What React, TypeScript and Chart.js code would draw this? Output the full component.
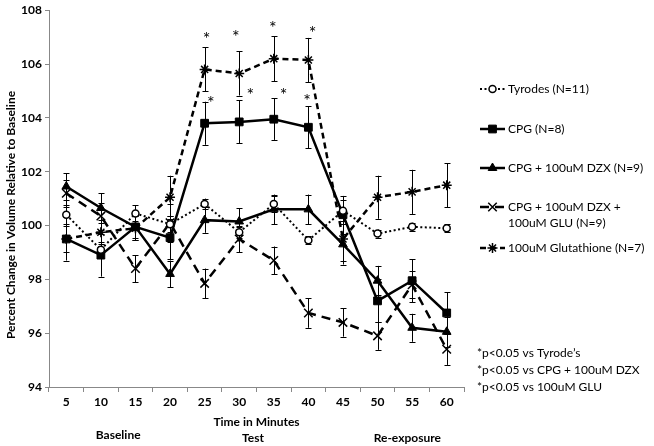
import React, { useEffect, useRef } from "react";
import { Chart, registerables } from "chart.js";
import { drawPoint } from "chart.js/helpers";

Chart.register(...registerables);

// ---- data ----
const minutes = ["5", "10", "15", "20", "25", "30", "35", "40", "45", "50", "55", "60"];

const tyrodes = [100.4, 99.1, 100.45, 100.05, 100.8, 99.75, 100.8, 99.45, 100.55, 99.7, 99.95, 99.9];
const tyrodesErr = [0.35, 0.3, 0.3, 0.3, 0.2, 0.2, 0.3, 0.15, 0.4, 0.15, 0.15, 0.15];

const cpg = [99.5, 98.9, 99.95, 99.55, 103.8, 103.85, 103.95, 103.65, 100.4, 97.2, 97.95, 96.75];
const cpgErr = [0.8, 0.8, 0.5, 0.8, 0.8, 0.8, 0.77, 0.78, 0.7, 0.8, 0.8, 0.77];

const cpgDzx = [101.45, 100.65, 99.95, 98.2, 100.2, 100.15, 100.6, 100.6, 99.3, 97.95, 96.2, 96.05];
const cpgDzxErr = [0.5, 0.55, 0.4, 0.5, 0.47, 0.5, 0.55, 0.55, 0.75, 0.55, 0.52, 0.55];

const cpgDzxGlu = [101.2, 100.35, 98.4, 100.1, 97.85, 99.5, 98.7, 96.75, 96.4, 95.9, 97.8, 95.4];
const cpgDzxGluErr = [0.5, 0.5, 0.5, 0.7, 0.55, 0.5, 0.52, 0.55, 0.53, 0.52, 0.5, 0.58];

const glutathione = [99.5, 99.75, 99.9, 101.05, 105.8, 105.65, 106.2, 106.15, 99.5, 101.05, 101.25, 101.5];
const glutathioneErr = [0.5, 0.45, 0.45, 0.8, 0.82, 0.82, 0.83, 0.82, 0.8, 0.8, 0.82, 0.82];

const seriesNames = [
  ["Tyrodes (N=11)"],
  ["CPG (N=8)"],
  ["CPG + 100uM DZX (N=9)"],
  ["CPG + 100uM DZX +", "100uM GLU (N=9)"],
  ["100uM Glutathione (N=7)"],
];

// significance asterisks (minute position, value)
const sigMinutes = [25.3, 29.5, 34.85, 40.6, 25.9, 31.6, 36.4, 39.8];
const sigValues = [107.1, 107.15, 107.5, 107.3, 104.7, 105.0, 105.0, 104.8];

const noteLines = [
  "*p<0.05 vs Tyrode\u2019s",
  "*p<0.05 vs CPG + 100uM DZX",
  "*p<0.05 vs 100uM GLU",
];

const yTitle = "Percent Change in Volume Relative to Baseline";
const xTitle = "Time in Minutes";
const phaseLabels = ["Baseline", "Test", "Re-exposure"];
const phaseMinutes = [12.5, 32.0, 54.3];

const errors = [tyrodesErr, cpgErr, cpgDzxErr, cpgDzxGluErr, glutathioneErr];

const FONT = "Lato, 'Open Sans', sans-serif";

const errorBarPlugin = {
  id: "errorBars",
  beforeDatasetsDraw(chart: any) {
    const ctx = chart.ctx;
    const y = chart.scales.y;
    ctx.save();
    ctx.strokeStyle = "#000";
    ctx.lineWidth = 1;
    chart.data.datasets.forEach((ds: any, i: number) => {
      const meta = chart.getDatasetMeta(i);
      const errs = errors[i];
      meta.data.forEach((pt: any, j: number) => {
        const v = ds.data[j];
        const e = errs[j];
        const top = y.getPixelForValue(v + e);
        const bot = y.getPixelForValue(v - e);
        const x = Math.round(pt.x) + 0.5;
        ctx.beginPath();
        ctx.moveTo(x, top);
        ctx.lineTo(x, bot);
        ctx.moveTo(x - 3, Math.round(top) + 0.5);
        ctx.lineTo(x + 3, Math.round(top) + 0.5);
        ctx.moveTo(x - 3, Math.round(bot) + 0.5);
        ctx.lineTo(x + 3, Math.round(bot) + 0.5);
        ctx.stroke();
      });
    });
    ctx.restore();
  },
};

const annotationPlugin = {
  id: "annotations",
  afterDraw(chart: any) {
    const ctx = chart.ctx;
    const xs = chart.scales.x;
    const ys = chart.scales.y;
    const area = chart.chartArea;
    ctx.save();
    ctx.fillStyle = "#000";

    // asterisks
    ctx.font = `18px ${FONT}`;
    ctx.textAlign = "center";
    ctx.textBaseline = "middle";
    sigMinutes.forEach((m, i) => {
      const px = xs.getPixelForValue((m - 5) / 5);
      const py = ys.getPixelForValue(sigValues[i]);
      ctx.fillText("*", px, py + 4.5);
    });

    // y title
    ctx.font = `bold 12px ${FONT}`;
    ctx.save();
    ctx.translate(11, 215);
    ctx.rotate(-Math.PI / 2);
    ctx.textAlign = "center";
    ctx.textBaseline = "middle";
    ctx.fillText(yTitle, 0, 0);
    ctx.restore();

    // x title and phases
    ctx.textAlign = "center";
    ctx.textBaseline = "middle";
    ctx.fillText(xTitle, (area.left + area.right) / 2, 422);
    phaseLabels.forEach((t, i) => {
      const px = xs.getPixelForValue((phaseMinutes[i] - 5) / 5);
      ctx.fillText(t, px, i === 0 ? 435 : 438);
    });

    // legend
    ctx.font = `12px ${FONT}`;
    ctx.textAlign = "left";
    ctx.textBaseline = "middle";
    const legendY = [89, 129, 168, 207, 248];
    chart.data.datasets.forEach((ds: any, i: number) => {
      const ly = legendY[i];
      ctx.save();
      ctx.strokeStyle = "#000";
      ctx.lineWidth = ds.borderWidth;
      ctx.setLineDash(ds.borderDash || []);
      ctx.beginPath();
      ctx.moveTo(480, ly);
      ctx.lineTo(505, ly);
      ctx.stroke();
      ctx.setLineDash([]);
      ctx.fillStyle = ds.pointBackgroundColor;
      ctx.strokeStyle = "#000";
      ctx.lineWidth = ds.pointBorderWidth;
      drawPoint(ctx, { pointStyle: ds.pointStyle, radius: ds.pointRadius, borderWidth: ds.pointBorderWidth, rotation: 0 }, 492.5, ly);
      ctx.restore();
      ctx.fillStyle = "#000";
      seriesNames[i].forEach((line, k) => {
        ctx.fillText(line, 508, ly + k * 16);
      });
    });

    // notes
    noteLines.forEach((t, i) => {
      ctx.fillText(t, 477, 353 + i * 17);
    });

    ctx.restore();
  },
};

export default function App() {
  const ref = useRef<HTMLCanvasElement | null>(null);
  useEffect(() => {
    document.body.style.margin = "0";
    const canvas = ref.current;
    if (!canvas) return;
    const base = { borderColor: "#000", pointBorderColor: "#000", tension: 0, borderCapStyle: "butt" };
    const chart = new Chart(canvas, {
      type: "line",
      data: {
        labels: minutes,
        datasets: [
          { ...base, label: seriesNames[0].join(" "), data: tyrodes, borderWidth: 2, borderDash: [2, 2.5], pointStyle: "circle", pointRadius: 3.5, pointBackgroundColor: "#fff", pointBorderWidth: 1.5 },
          { ...base, label: seriesNames[1].join(" "), data: cpg, borderWidth: 2.5, pointStyle: "rect", pointRadius: 5.5, pointBackgroundColor: "#000", pointBorderWidth: 1 },
          { ...base, label: seriesNames[2].join(" "), data: cpgDzx, borderWidth: 2.5, pointStyle: "triangle", pointRadius: 5, pointBackgroundColor: "#000", pointBorderWidth: 1 },
          { ...base, label: seriesNames[3].join(" "), data: cpgDzxGlu, borderWidth: 2.5, borderDash: [9, 6], pointStyle: "crossRot", pointRadius: 6, pointBackgroundColor: "#000", pointBorderWidth: 1.5 },
          { ...base, label: seriesNames[4].join(" "), data: glutathione, borderWidth: 2.5, borderDash: [6, 4], pointStyle: "star", pointRadius: 5, pointBackgroundColor: "#000", pointBorderWidth: 1.5 },
        ] as any,
      },
      options: {
        responsive: false,
        animation: false,
        layout: { padding: { top: 8, right: 190, bottom: 0, left: 0 } },
        plugins: { legend: { display: false }, tooltip: { enabled: false } },
        scales: {
          x: {
            type: "category",
            offset: true,
            grid: { display: true, drawOnChartArea: false, drawTicks: true, tickLength: 5, color: "#888", offset: true },
            border: { display: true, color: "#888", width: 1 },
            ticks: { font: { family: FONT, size: 12, weight: "bold" }, color: "#000", padding: 3, maxRotation: 0, autoSkip: false },
            afterFit: (s: any) => { s.height = 59; },
          },
          y: {
            min: 94,
            max: 108,
            grid: { display: true, drawOnChartArea: false, drawTicks: true, tickLength: 4, color: "#888" },
            border: { display: true, color: "#888", width: 1 },
            ticks: { stepSize: 2, font: { family: FONT, size: 12, weight: "bold" }, color: "#000", padding: 3 },
            afterFit: (s: any) => { s.width = 49; },
          },
        },
      } as any,
      plugins: [errorBarPlugin, annotationPlugin],
    });
    return () => chart.destroy();
  }, []);
  return (
    <div style={{ width: 654, height: 446, background: "#fff" }}>
      <canvas ref={ref} width={654} height={446} style={{ width: 654, height: 446, display: "block" }} />
    </div>
  );
}
